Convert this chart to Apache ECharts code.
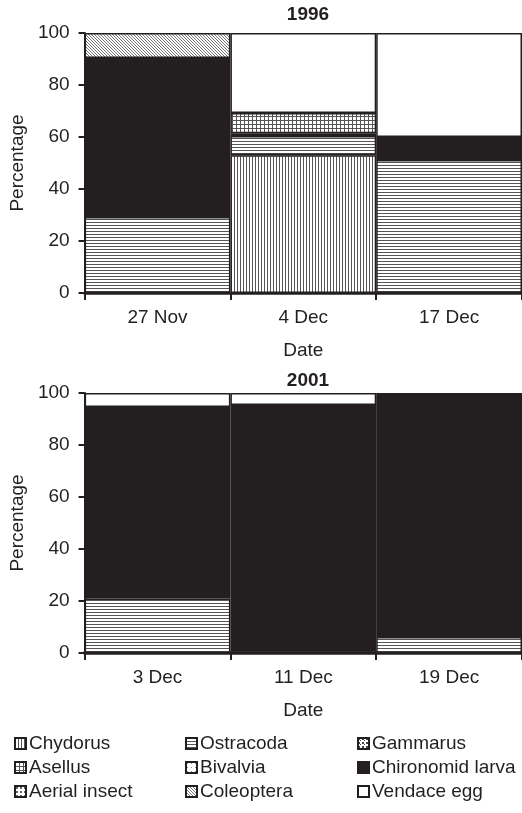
<!DOCTYPE html>
<html>
<head>
<meta charset="utf-8">
<script src="https://cdn.jsdelivr.net/npm/echarts@6/dist/echarts.min.js"></script>
<style>
html,body{margin:0;padding:0;background:#fff;}
#chart{width:522px;height:813px;}
</style>
</head>
<body>
<div id="chart"></div>
<script>
// ---- Data ----
const cats1996 = ['27 Nov', '4 Dec', '17 Dec'];
const chydorus1996 = [null, 53, null];
const ostracoda1996 = [29.2, 7.4, 51.2];
const chironomid1996 = [61.2, 1.0, 8.8];
const asellus1996 = [null, 7.8, null];
const coleoptera1996 = [9.6, null, null];
const vendace1996 = [null, 30.8, 40];

const cats2001 = ['3 Dec', '11 Dec', '19 Dec'];
const ostracoda2001 = [21, 0.6, 6.2];
const chironomid2001 = [73.6, 94.8, 93.8];
const vendace2001 = [5.4, 4.6, null];

const yTicks = [0, 20, 40, 60, 80, 100];

// ---- Patterns ----
function pat(size, draw) {
  const c = document.createElement('canvas');
  c.width = size; c.height = size;
  const g = c.getContext('2d');
  g.fillStyle = '#fff'; g.fillRect(0, 0, size, size);
  draw(g, size);
  return { image: c, repeat: 'repeat' };
}
const ink = '#231f20';
const P = {
  'Chydorus': pat(3, g => { g.fillStyle = '#555'; g.fillRect(0, 0, 1, 3); }),
  'Ostracoda': pat(3, g => { g.fillStyle = '#555'; g.fillRect(0, 0, 3, 1); }),
  'Gammarus': pat(4, g => { g.fillStyle = '#444'; g.fillRect(0, 0, 2, 2); g.fillRect(2, 2, 1, 1); }),
  'Asellus': pat(4, g => { g.fillStyle = '#555'; g.fillRect(0, 0, 1, 4); g.fillRect(0, 0, 4, 1); }),
  'Bivalvia': pat(4, g => { g.fillStyle = '#888'; g.fillRect(1, 1, 1, 1); }),
  'Chironomid larva': ink,
  'Aerial insect': pat(4, g => { g.fillStyle = '#666'; g.fillRect(1, 1, 2, 2); }),
  'Coleoptera': pat(3, g => { g.fillStyle = '#777'; g.fillRect(0, 0, 1, 1); g.fillRect(1, 1, 1, 1); g.fillRect(2, 2, 1, 1); }),
  'Vendace egg': '#ffffff'
};

// stacking order bottom -> top
const stackOrder = ['Chydorus', 'Ostracoda', 'Gammarus', 'Bivalvia', 'Aerial insect', 'Chironomid larva', 'Asellus', 'Coleoptera', 'Vendace egg'];
const data1996 = {
  'Chydorus': chydorus1996, 'Ostracoda': ostracoda1996, 'Chironomid larva': chironomid1996,
  'Asellus': asellus1996, 'Coleoptera': coleoptera1996, 'Vendace egg': vendace1996
};
const data2001 = {
  'Ostracoda': ostracoda2001, 'Chironomid larva': chironomid2001, 'Vendace egg': vendace2001
};
const empty = [null, null, null];

const series = [];
[[data1996, 0], [data2001, 1]].forEach(([d, idx]) => {
  stackOrder.forEach(name => {
    series.push({
      name: name, type: 'bar', stack: 's' + idx,
      xAxisIndex: idx, yAxisIndex: idx,
      barCategoryGap: '0%',
      data: (d[name] || empty).map(v => v == null ? '-' : v),
      itemStyle: { color: P[name], borderColor: ink, borderWidth: 1.5 },
      emphasis: { disabled: true },
      animation: false
    });
  });
});

const font = 'Liberation Sans, Arial, sans-serif';
const fs = 19;
function xAxis(cats, gi, lw) {
  return {
    type: 'category', data: cats, gridIndex: gi,
    name: 'Date', nameLocation: 'middle', nameGap: 48,
    nameTextStyle: { fontFamily: font, fontSize: fs, color: ink, verticalAlign: 'top' },
    axisLine: { lineStyle: { color: ink, width: lw } },
    axisTick: { show: true, length: 7, lineStyle: { color: ink, width: 2 } },
    axisLabel: { fontFamily: font, fontSize: fs, color: ink, margin: 15 }
  };
}
function yAxis(gi) {
  return {
    type: 'value', gridIndex: gi, min: 0, max: 100, interval: 20,
    name: 'Percentage', nameLocation: 'middle', nameGap: 57, nameRotate: 90,
    nameTextStyle: { fontFamily: font, fontSize: fs, color: ink },
    axisLine: { show: true, lineStyle: { color: ink, width: 2 } },
    axisTick: { show: true, length: 6, lineStyle: { color: ink, width: 2 } },
    axisLabel: { fontFamily: font, fontSize: fs, color: ink, margin: 15,
      formatter: v => yTicks.includes(v) ? String(v) : '' },
    splitLine: { show: false }
  };
}
function legend(names, left) {
  return {
    data: names, orient: 'vertical', left: left, top: 734,
    padding: 0,
    itemWidth: 11, itemHeight: 11, itemGap: 5, icon: 'rect',
    itemStyle: { borderColor: ink, borderWidth: 2 },
    textStyle: { fontFamily: font, fontSize: fs, color: ink, lineHeight: 19, padding: [0, 0, 0, -2] },
    selectedMode: false
  };
}

const chart = echarts.init(document.getElementById('chart'), null, { renderer: 'canvas' });
chart.setOption({
  backgroundColor: '#fff',
  animation: false,
  title: [
    { text: '1996', left: 303, textAlign: 'center', top: 0, textStyle: { fontFamily: font, fontSize: fs, fontWeight: 'bold', color: ink } },
    { text: '2001', left: 303, textAlign: 'center', top: 366, textStyle: { fontFamily: font, fontSize: fs, fontWeight: 'bold', color: ink } }
  ],
  grid: [
    { left: 83, top: 33, width: 441, height: 260 },
    { left: 84, top: 393, width: 440, height: 260 }
  ],
  xAxis: [xAxis(cats1996, 0, 2.5), xAxis(cats2001, 1, 3.5)],
  yAxis: [yAxis(0), yAxis(1)],
  legend: [
    legend(['Chydorus', 'Asellus', 'Aerial insect'], 14),
    legend(['Ostracoda', 'Bivalvia', 'Coleoptera'], 185),
    legend(['Gammarus', 'Chironomid larva', 'Vendace egg'], 357)
  ],
  series: series
});
</script>
</body>
</html>
